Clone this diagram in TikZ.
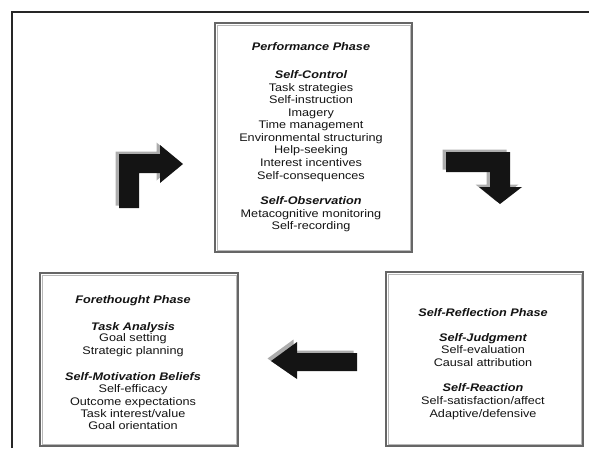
\documentclass[tikz,border=0pt]{standalone}
\usepackage{fontspec}
\setmainfont{Liberation Sans}[FakeStretch=1.15]
\begin{document}
\begin{tikzpicture}[x=1pt,y=-1pt,
  phasebox/.style={draw=black!60, line width=1.1pt, rectangle, inner sep=0pt, fill=none},
  innerline/.style={draw=black!28, line width=0.6pt},
  ln/.style={font=\fontsize{11}{12.6}\selectfont, text=black!92, inner sep=0pt, anchor=base},
  hd/.style={ln, font=\fontsize{11}{12.6}\selectfont\bfseries\itshape},
  blockarrow/.style={fill=black!92},
  arrowshadow/.style={fill=black!32}]
\useasboundingbox (0,0) rectangle (589,448);
\fill[white] (0,0) rectangle (589,448);
% outer frame
\draw[line width=1.6pt, black!85] (12,448) -- (12,12) -- (589,12);

% phase boxes
\node[phasebox, minimum width=197pt, minimum height=229pt] (perf) at (313.5,137.5) {};
\node[phasebox, minimum width=198pt, minimum height=173pt] (fore) at (139,359.5) {};
\node[phasebox, minimum width=197pt, minimum height=174pt] (refl) at (484.5,359) {};
\foreach \b in {perf,fore,refl}
  \draw[innerline] ([xshift=2.5pt,yshift=2.5pt]\b.south west) rectangle ([xshift=-2.5pt,yshift=-2.5pt]\b.north east);

% Performance phase text
\node[hd] (p1) at (311,50) {Performance Phase};
\node[hd] (p2) at (311,78) {Self-Control};
\node[ln] (p3) at (311,91) {Task strategies};
\node[ln] (p4) at (311,103) {Self-instruction};
\node[ln] (p5) at (311,116) {Imagery};
\node[ln] (p6) at (311,128) {Time management};
\node[ln] (p7) at (311,141) {Environmental structuring};
\node[ln] (p8) at (311,153) {Help-seeking};
\node[ln] (p9) at (311,166) {Interest incentives};
\node[ln] (p10) at (311,179) {Self-consequences};
\node[hd] (p11) at (311,204) {Self-Observation};
\node[ln] (p12) at (311,217) {Metacognitive monitoring};
\node[ln] (p13) at (311,229) {Self-recording};

% Forethought phase text
\node[hd] (f1) at (133,303) {Forethought Phase};
\node[hd] (f2) at (133,330) {Task Analysis};
\node[ln] (f3) at (133,341) {Goal setting};
\node[ln] (f4) at (133,354) {Strategic planning};
\node[hd] (f5) at (133,380) {Self-Motivation Beliefs};
\node[ln] (f6) at (133,392) {Self-efficacy};
\node[ln] (f7) at (133,405) {Outcome expectations};
\node[ln] (f8) at (133,417) {Task interest/value};
\node[ln] (f9) at (133,429) {Goal orientation};

% Self-reflection phase text
\node[hd] (r1) at (483,316) {Self-Reflection Phase};
\node[hd] (r2) at (483,341) {Self-Judgment};
\node[ln] (r3) at (483,353) {Self-evaluation};
\node[ln] (r4) at (483,366) {Causal attribution};
\node[hd] (r5) at (483,391) {Self-Reaction};
\node[ln] (r6) at (483,404) {Self-satisfaction/affect};
\node[ln] (r7) at (483,417) {Adaptive/defensive};

% block arrows (shadow then arrow)
\def\elbowup{(119,208) -- (119,154) -- (160,154) -- (160,145) -- (183,164) -- (160,183) -- (160,173) -- (139,173) -- (139,208) -- cycle}
\def\elbowdown{(446,152) -- (510,152) -- (510,187) -- (522,187) -- (500,204) -- (479,187) -- (490,187) -- (490,172) -- (446,172) -- cycle}
\def\leftarr{(357,353) -- (297,353) -- (297,342) -- (271,361) -- (297,379) -- (297,371) -- (357,371) -- cycle}
\begin{scope}[shift={(-3.5,-2.5)}]
  \fill[arrowshadow] \elbowup;
  \fill[arrowshadow] \elbowdown;
  \fill[arrowshadow] \leftarr;
\end{scope}
\fill[blockarrow] \elbowup;
\fill[blockarrow] \elbowdown;
\fill[blockarrow] \leftarr;
\end{tikzpicture}
\end{document}
